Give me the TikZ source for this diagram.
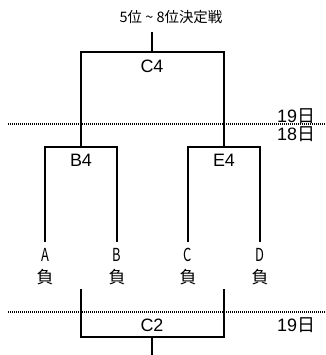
\documentclass[tikz,border=0pt]{standalone}
\usepackage{fontspec}
\setmainfont{Liberation Sans}
\newfontfamily\jp{Noto Sans CJK JP}
\newfontfamily\jpnarrow[FakeStretch=0.72]{Noto Sans CJK JP}
\begin{document}
\begin{tikzpicture}[
        x=1bp, y=-1bp,
        bar/.style = {line width=2.3bp},
        sep/.style = {line width=2.2bp, dash pattern=on 1bp off 1bp},
        lbl/.style = {font=\fontsize{18}{18}\selectfont, inner sep=0pt},
        team/.style = {font=\jpnarrow\fontsize{18}{18}\selectfont, inner sep=0pt},
        lose/.style = {font=\jp\fontsize{17}{17}\selectfont, inner sep=0pt},
        day/.style = {font=\fontsize{18}{18}\selectfont, inner sep=0pt}
    ]
        \useasboundingbox (0,0) rectangle (326,355);

        % Points du tableau
        \coordinate (top) at (152,32);
        \coordinate (c4) at (152,52);
        \coordinate (b4) at (81,147);
        \coordinate (e4) at (224,147);
        \coordinate (a) at (45,242);
        \coordinate (b) at (117,242);
        \coordinate (c) at (188,242);
        \coordinate (d) at (260,242);
        \coordinate (lb) at (81,289);
        \coordinate (lc) at (224,289);
        \coordinate (c2) at (152,337);
        \coordinate (bot) at (152,355);
        \coordinate (s1l) at (8,124);
        \coordinate (s1r) at (326,124);
        \coordinate (s2l) at (8,312);
        \coordinate (s2r) at (326,312);

        % Textes
        \node[font=\jp\fontsize{14.5}{14.5}\selectfont, inner sep=0pt] (ttl) at (171,17) {5位 \textasciitilde{} 8位決定戦};
        \node[lbl] (c4t) at (152,66) {C4};
        \node[lbl] (b4t) at (81,160) {B4};
        \node[lbl] (e4t) at (224,160) {E4};
        \node[lbl] (c2t) at (152,325) {C2};
        \node[team] (ta) at (45,255) {A};
        \node[team] (tb) at (117,255) {B};
        \node[team] (tc) at (188,255) {C};
        \node[team] (td) at (260,255) {D};
        \node[lose] (la) at (45,277) {負};
        \node[lose] (lb2) at (117,277) {負};
        \node[lose] (lc2) at (188,277) {負};
        \node[lose] (ld) at (260,277) {負};
        \node[day] (d19a) at (296,116) {19{\jp 日}};
        \node[day] (d18) at (296,134) {18{\jp 日}};
        \node[day] (d19b) at (296,325) {19{\jp 日}};

        % Séparations des jours
        \draw[sep] (s1l) -- (s1r);
        \draw[sep] (s2l) -- (s2r);

        % Traits du tableau
        \draw[bar] (top) -- (c4);
        \draw[bar] (b4) |- (c4) -| (e4);
        \draw[bar] (a) |- (b4) -| (b);
        \draw[bar] (c) |- (e4) -| (d);
        \draw[bar] (lb) |- (c2) -| (lc);
        \draw[bar] (c2) -- (bot);

    \end{tikzpicture}
\end{document}
